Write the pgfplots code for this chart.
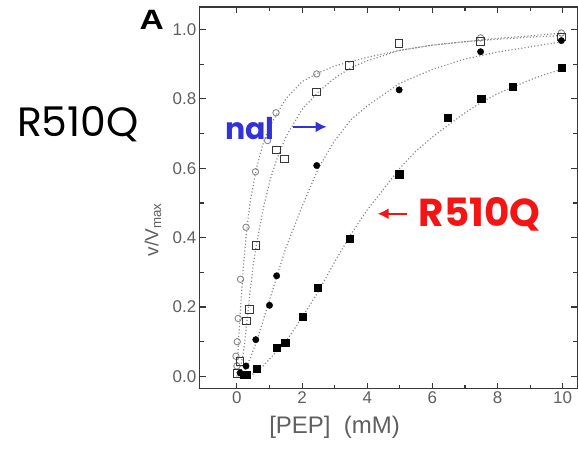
\documentclass[border=0pt]{standalone}
\usepackage{fontspec}
\setmainfont{Liberation Sans}
\newfontfamily\comic{Poppins}
\usepackage{pgfplots}
\pgfplotsset{compat=1.18}
\usetikzlibrary{arrows.meta}
\definecolor{axgray}{RGB}{55,55,55}
\definecolor{lblgray}{RGB}{95,95,95}
\definecolor{fitgray}{RGB}{135,135,135}
\definecolor{nalblue}{RGB}{50,50,215}
\definecolor{redlbl}{RGB}{245,20,20}

% open circles
\pgfplotstableread{
x y
0.00 0.03
-0.03 0.058
0.01 0.10
0.04 0.167
0.11 0.28
0.28 0.43
0.57 0.59
0.94 0.68
1.20 0.76
2.45 0.872
7.48 0.976
9.96 0.99
}\opencirc
% open squares
\pgfplotstableread{
x y
0.02 0.009
0.09 0.044
0.30 0.16
0.38 0.193
0.58 0.378
1.22 0.653
1.46 0.627
2.45 0.82
3.45 0.896
4.98 0.96
7.48 0.965
9.96 0.979
}\opensq
% filled circles
\pgfplotstableread{
x y
0.10 0.01
0.28 0.03
0.58 0.106
1.00 0.205
1.22 0.29
2.45 0.608
4.98 0.826
7.48 0.936
9.96 0.968
}\fillcirc
% filled squares
\pgfplotstableread{
x y
0.22 0.004
0.30 0.006
0.60 0.023
1.22 0.082
1.48 0.097
2.01 0.171
2.47 0.255
3.46 0.397
4.98 0.583
6.47 0.746
7.50 0.800
8.47 0.835
9.96 0.890
}\fillsq

\begin{document}
\begin{tikzpicture}
\begin{axis}[
    at={(0,0)}, anchor=south west,
    scale only axis,
    width=378pt, height=382pt,
    xmin=-1.14, xmax=10.45,
    ymin=-0.035, ymax=1.065,
    xtick={0,2,4,6,8,10},
    ytick={0,0.2,0.4,0.6,0.8,1.0},
    minor x tick num=1, minor y tick num=1,
    tick align=inside,
    major tick length=6pt, minor tick length=4pt,
    axis line style={axgray, line width=1.3pt},
    tick style={axgray, line width=1.1pt},
    /pgf/number format/assume math mode=true,
    yticklabel style={/pgf/number format/.cd, fixed, fixed zerofill, precision=1},
    ticklabel style={font=\fontsize{17}{17}\selectfont, text=lblgray},
    xlabel={[PEP]\ \ (mM)},
    ylabel={v/V\textsubscript{max}},
    xlabel style={font=\fontsize{24}{24}\selectfont, text=lblgray,
        at={(axis description cs:0.357,-0.102)}, anchor=center},
    ylabel style={font=\fontsize{19}{19}\selectfont, text=lblgray,
        at={(axis description cs:-0.124,0.416)}, anchor=center, rotate=0},
    clip=false,
    fit/.style={fitgray, line width=1.2pt, dash pattern=on 1.1pt off 2.2pt},
]
% fitted curves
\addplot[fit] coordinates {
(0,0) (0.05,0.1) (0.1,0.18) (0.2,0.32) (0.3,0.42) (0.4,0.5) (0.6,0.6)
(0.8,0.67) (1.0,0.72) (1.5,0.8) (2,0.85) (2.5,0.875) (3,0.895) (4,0.92)
(5,0.94) (6,0.955) (7,0.965) (8,0.975) (9,0.982) (10,0.99)};
\addplot[fit] coordinates {
(0.05,0) (0.1,0.02) (0.2,0.07) (0.3,0.15) (0.4,0.24) (0.5,0.32) (0.6,0.38)
(0.8,0.48) (1.0,0.56) (1.2,0.62) (1.5,0.69) (2,0.77) (2.5,0.82) (3,0.86)
(3.5,0.89) (4,0.91) (5,0.94) (6,0.955) (7,0.965) (8,0.972) (9,0.978) (10,0.983)};
\addplot[fit] coordinates {
(0.2,0.01) (0.4,0.05) (0.6,0.1) (0.8,0.16) (1.0,0.22) (1.2,0.28) (1.5,0.37)
(2,0.49) (2.5,0.6) (3,0.68) (3.5,0.74) (4,0.78) (5,0.845) (6,0.885)
(7,0.915) (8,0.935) (9,0.95) (10,0.965)};
\addplot[fit] coordinates {
(0.4,0.0) (0.6,0.015) (0.8,0.03) (1.0,0.05) (1.5,0.1) (2,0.17) (2.5,0.245)
(3,0.33) (3.5,0.41) (4,0.48) (4.5,0.54) (5,0.6) (5.5,0.65) (6,0.69)
(6.5,0.725) (7,0.76) (7.5,0.79) (8,0.815) (8.5,0.835) (9,0.855)
(9.5,0.872) (10,0.886)};
% data points
\addplot[only marks, mark=o, mark size=3.2pt, mark options={draw=fitgray, line width=0.9pt, fill=white}] table {\opencirc};
\addplot[only marks, mark=square, mark size=3.8pt, mark options={draw=axgray, line width=0.9pt, fill=white}] table {\opensq};
\addplot[only marks, mark=*, mark size=3.2pt, mark options={draw=black, fill=black}] table {\fillcirc};
\addplot[only marks, mark=square*, mark size=3.6pt, mark options={draw=black, fill=black}] table {\fillsq};
\end{axis}
% annotations
\node[font=\fontsize{28}{28}\selectfont\bfseries, text=black, xscale=1.2] at (-48pt,369pt) {A};
\node[font=\comic\fontsize{41}{41}\selectfont, anchor=base] at (-122pt,252pt) {R510Q};
\node[font=\comic\bfseries\fontsize{30}{30}\selectfont, text=nalblue, anchor=base] at (50pt,249pt) {nal};
\draw[nalblue, line width=2pt, -{Latex[length=11pt,width=11pt]}] (93pt,262pt) -- (127pt,262pt);
\node[font=\comic\bfseries\fontsize{39}{39}\selectfont, text=redlbl, anchor=base] at (280pt,162pt) {R510Q};
\draw[redlbl, line width=2pt, -{Latex[length=11pt,width=11pt]}] (207pt,175pt) -- (178pt,175pt);
\useasboundingbox (-200pt,-60pt) rectangle (378pt,389pt);
\end{tikzpicture}
\end{document}
